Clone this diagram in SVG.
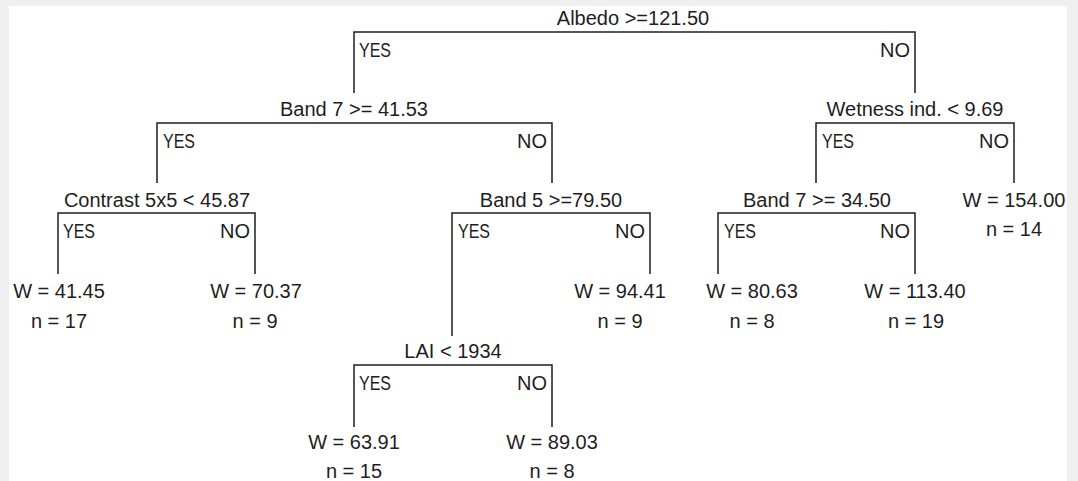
<svg xmlns="http://www.w3.org/2000/svg" width="1078" height="481" viewBox="0 0 1078 481">
<style>
text{font-family:"Liberation Sans",Arial,sans-serif;font-size:20px;fill:#1e1e1e}
.c{text-anchor:middle}
.e{text-anchor:end}
.br{fill:none;stroke:#1e1e1e;stroke-width:1.5}
</style>
<rect x="0" y="0" width="1078" height="481" fill="#efefef"/>
<rect x="9" y="6" width="1058" height="475" fill="#ffffff"/>
<g id="connectors">
<path class="br" d="M354,93 V32 H915 V93"/>
<path class="br" d="M157,183 V123 H552 V183"/>
<path class="br" d="M816,183 V123 H1014 V183"/>
<path class="br" d="M58,274 V213 H255 V274"/>
<path class="br" d="M452,336 V213 H650 V274"/>
<path class="br" d="M718,274 V213 H915 V274"/>
<path class="br" d="M354,427 V365 H552 V427"/>
<text x="359" y="57" textLength="32" lengthAdjust="spacingAndGlyphs">YES</text>
<text x="910" y="57" class="e">NO</text>
<text x="163" y="148" textLength="32" lengthAdjust="spacingAndGlyphs">YES</text>
<text x="547" y="148" class="e">NO</text>
<text x="822" y="148" textLength="32" lengthAdjust="spacingAndGlyphs">YES</text>
<text x="1009" y="148" class="e">NO</text>
<text x="63" y="238" textLength="32" lengthAdjust="spacingAndGlyphs">YES</text>
<text x="250" y="238" class="e">NO</text>
<text x="458" y="238" textLength="32" lengthAdjust="spacingAndGlyphs">YES</text>
<text x="645" y="238" class="e">NO</text>
<text x="724" y="238" textLength="32" lengthAdjust="spacingAndGlyphs">YES</text>
<text x="910" y="238" class="e">NO</text>
<text x="359" y="390" textLength="32" lengthAdjust="spacingAndGlyphs">YES</text>
<text x="547" y="390" class="e">NO</text>
</g>
<g id="n-albedo"><text x="633" y="25" class="c">Albedo &gt;=121.50</text></g>
<g id="n-band7a"><text x="354" y="116" class="c">Band 7 &gt;= 41.53</text></g>
<g id="n-wetness"><text x="915" y="116" class="c">Wetness ind. &lt; 9.69</text></g>
<g id="n-contrast"><text x="157" y="207" class="c">Contrast 5x5 &lt; 45.87</text></g>
<g id="n-band5"><text x="551" y="207" class="c">Band 5 &gt;=79.50</text></g>
<g id="n-band7b"><text x="817" y="207" class="c">Band 7 &gt;= 34.50</text></g>
<g id="n-leaf154"><text x="1014" y="207" class="c">W = 154.00</text><text x="1014" y="236" class="c">n = 14</text></g>
<g id="n-leaf41"><text x="59" y="298" class="c">W = 41.45</text><text x="59" y="328" class="c">n = 17</text></g>
<g id="n-leaf70"><text x="256" y="298" class="c">W = 70.37</text><text x="255" y="328" class="c">n = 9</text></g>
<g id="n-leaf94"><text x="620" y="298" class="c">W = 94.41</text><text x="620" y="328" class="c">n = 9</text></g>
<g id="n-leaf80"><text x="752" y="298" class="c">W = 80.63</text><text x="752" y="328" class="c">n = 8</text></g>
<g id="n-leaf113"><text x="915" y="298" class="c">W = 113.40</text><text x="916" y="328" class="c">n = 19</text></g>
<g id="n-lai"><text x="453" y="358" class="c">LAI &lt; 1934</text></g>
<g id="n-leaf63"><text x="354" y="449" class="c">W = 63.91</text><text x="354" y="478" class="c">n = 15</text></g>
<g id="n-leaf89"><text x="552" y="449" class="c">W = 89.03</text><text x="552" y="478" class="c">n = 8</text></g>
</svg>
